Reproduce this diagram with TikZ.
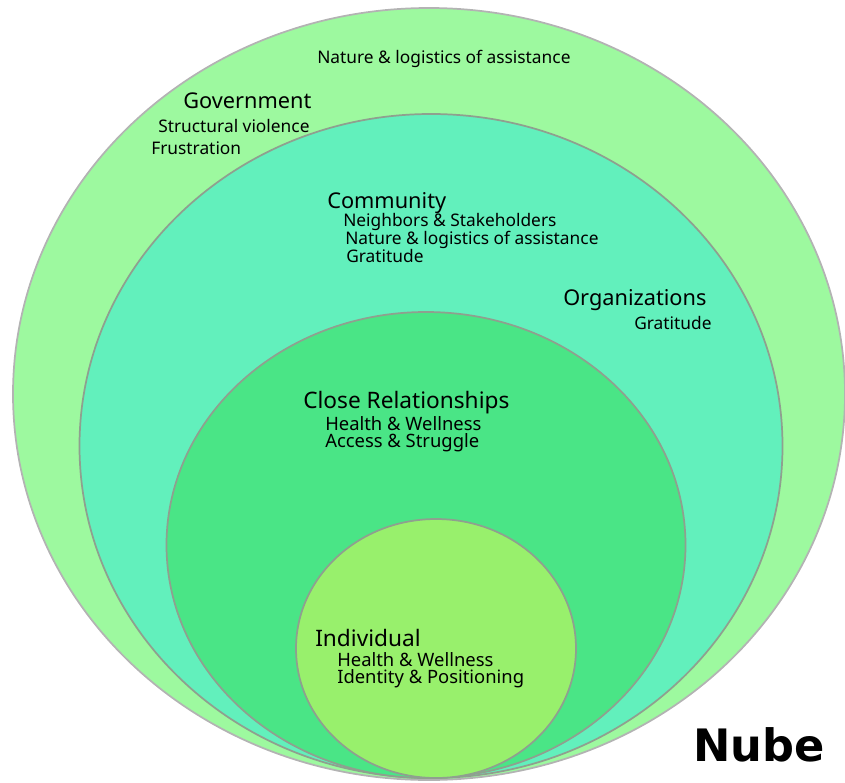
\documentclass[tikz,border=0pt]{standalone}
\usepackage{fontspec}
\setmainfont{Noto Sans}
\newfontfamily\nubefont{DejaVu Sans}
\usepackage{tikz}
\usetikzlibrary{calc}
\definecolor{govfill}{HTML}{9DF99F}
\definecolor{comfill}{HTML}{62F0BC}
\definecolor{relfill}{HTML}{4AE586}
\definecolor{indfill}{HTML}{98F06C}
\definecolor{outerline}{HTML}{B3B3B3}
\definecolor{innerline}{HTML}{8FA08F}
\tikzset{
  head/.style={anchor=west, inner sep=0pt, font=\fontsize{16.3}{18}\selectfont},
  item/.style={anchor=west, inner sep=0pt, font=\fontsize{13}{15}\selectfont},
  bighead/.style={anchor=west, inner sep=0pt, font=\fontsize{17}{19}\selectfont},
  bigitem/.style={anchor=west, inner sep=0pt, font=\fontsize{13.8}{16}\selectfont},
}
% #1,#2 centre, #3,#4 radii (pixels), #5 fill, #6 line
\newcommand{\ring}[6]{\draw[draw=#6, line width=1.3pt, fill=#5] ( #1 , #2 ) ellipse [x radius={#3*0.75pt}, y radius={#4*0.75pt}];}

\begin{document}
\begin{tikzpicture}[x=0.75pt, y=-0.75pt]
    \useasboundingbox (0,0) rectangle (845,782);
    %
    \ring{429}{394}{416}{386}{govfill}{outerline}
    \ring{431}{446}{351.5}{332}{comfill}{innerline}
    \ring{426}{545}{259.5}{233}{relfill}{innerline}
    \ring{436}{648.5}{140}{129.5}{indfill}{innerline}
    %
    \node[item] (govnature) at (317,59) {Nature \& logistics of assistance};
    \node[head] (gov) at (183,101) {Government};
    \node[item] (govviolence) at (158,126) {Structural violence};
    \node[item] (govfrust) at (151,148) {Frustration};
    %
    \node[head] (com) at (327,203) {Community};
    \node[item] (comneigh) at (343,222) {Neighbors \& Stakeholders};
    \node[item] (comnature) at (345,240) {Nature \& logistics of assistance};
    \node[item] (comgrat) at (346,256) {Gratitude};
    %
    \node[head] (org) at (563,300) {Organizations};
    \node[item] (orggrat) at (634,323) {Gratitude};
    %
    \node[bighead] (rel) at (303,403) {Close Relationships};
    \node[bigitem] (relhealth) at (325,424) {Health \& Wellness};
    \node[bigitem] (relaccess) at (325,443) {Access \& Struggle};
    %
    \node[bighead] (ind) at (315,638) {Individual};
    \node[bigitem] (indhealth) at (337,660) {Health \& Wellness};
    \node[bigitem] (indident) at (337,679) {Identity \& Positioning};
    %
    \node[anchor=west, inner sep=0pt, font=\nubefont\bfseries\fontsize{33.5}{36}\selectfont] (nube) at (693,745) {Nube};
\end{tikzpicture}
\end{document}
